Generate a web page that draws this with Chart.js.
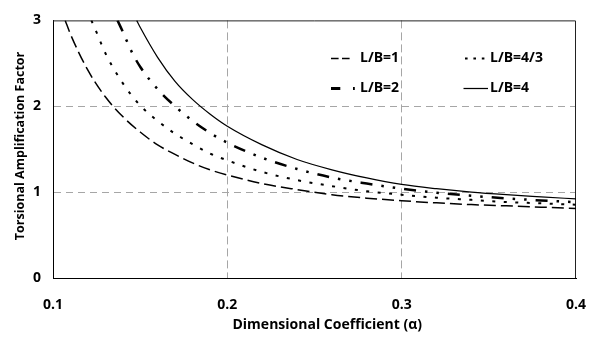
<!DOCTYPE html>
<html>
<head>
<meta charset="utf-8">
<script src="https://cdn.jsdelivr.net/npm/chart.js@4.4.1/dist/chart.umd.min.js"></script>
<style>
  html, body { margin: 0; padding: 0; background: #fff; }
</style>
</head>
<body>
<canvas id="chart" width="597" height="338"></canvas>
<script>
// Values
const lb1Alpha = [0.107, 0.11, 0.12, 0.13, 0.14, 0.15, 0.16, 0.17, 0.18, 0.19, 0.20, 0.22, 0.24, 0.26, 0.28, 0.30, 0.32, 0.34, 0.36, 0.38, 0.40];
const lb1Values = [3.0, 2.84, 2.42, 2.11, 1.88, 1.70, 1.55, 1.44, 1.34, 1.26, 1.20, 1.10, 1.03, 0.97, 0.93, 0.90, 0.875, 0.855, 0.84, 0.825, 0.81];

const lb43Alpha = [0.122, 0.125, 0.13, 0.14, 0.15, 0.16, 0.17, 0.18, 0.19, 0.20, 0.22, 0.24, 0.26, 0.28, 0.30, 0.32, 0.34, 0.36, 0.38, 0.40];
const lb43Values = [3.0, 2.86, 2.62, 2.27, 2.01, 1.83, 1.68, 1.56, 1.45, 1.37, 1.235, 1.14, 1.07, 1.01, 0.97, 0.935, 0.91, 0.885, 0.87, 0.853];

const lb2Alpha = [0.137, 0.14, 0.145, 0.15, 0.16, 0.17, 0.18, 0.19, 0.20, 0.22, 0.24, 0.26, 0.28, 0.30, 0.32, 0.34, 0.36, 0.38, 0.40];
const lb2Values = [3.0, 2.87, 2.64, 2.46, 2.20, 2.00, 1.83, 1.69, 1.576, 1.40, 1.27, 1.17, 1.10, 1.04, 0.994, 0.958, 0.928, 0.903, 0.883];

const lb4Alpha = [0.148, 0.15, 0.16, 0.17, 0.18, 0.19, 0.20, 0.22, 0.24, 0.26, 0.28, 0.30, 0.32, 0.34, 0.36, 0.38, 0.40];
const lb4Values = [3.0, 2.92, 2.57, 2.29, 2.08, 1.91, 1.767, 1.55, 1.38, 1.26, 1.165, 1.09, 1.04, 1.00, 0.97, 0.945, 0.921];

const seriesLabels = ['L/B=1', 'L/B=4/3', 'L/B=2', 'L/B=4'];
const xTicks = [0.1, 0.2, 0.3, 0.4];
const yTicks = [0, 1, 2, 3];

const font = { family: '"Open Sans", "Noto Sans", sans-serif', size: 14, weight: 'bold' };
const yTitleFont = { family: '"Open Sans", "Noto Sans", sans-serif', size: 12.5, weight: 'bold' };

function points(xs, ys) {
    return xs.map((x, i) => ({ x: x, y: ys[i] }));
}

function makeSet(label, xs, ys, width, dash, legend) {
    return {
        label: label,
        data: points(xs, ys),
        borderColor: '#000',
        borderWidth: width,
        borderDash: dash,
        pointRadius: 0,
        fill: false,
        cubicInterpolationMode: 'monotone',
        legendStyle: legend
    };
}

const datasets = [
    makeSet(seriesLabels[0], lb1Alpha, lb1Values, 1.5, [12, 5], { width: 1.6, dash: [7.6, 3.4], len: 19 }),
    makeSet(seriesLabels[1], lb43Alpha, lb43Values, 2, [3, 8.5], { width: 2, dash: [2.6, 5.8], len: 24.5, shift: 1.5 }),
    makeSet(seriesLabels[2], lb2Alpha, lb2Values, 2.5, [12, 9, 2.5, 9, 2.5, 9], { width: 3, dash: [9.3, 12.7, 1.8, 10], len: 24 }),
    makeSet(seriesLabels[3], lb4Alpha, lb4Values, 1.25, [], { width: 1.25, dash: [], len: 24.5 })
];

// legend sits inside the plot, 2 x 2
const legendSampleX = [331, 463.5];
const legendTextX = [360, 490];
const legendRowY = [58.5, 88.5];

const legendPlugin = {
    id: 'boxLegend',
    afterDatasetsDraw(chart) {
        const ctx = chart.ctx;
        ctx.save();
        chart.data.datasets.forEach((ds, i) => {
            const col = i % 2;
            const row = Math.floor(i / 2);
            const st = ds.legendStyle;
            const x0 = legendSampleX[col] + (st.shift || 0);
            const y = legendRowY[row];
            ctx.strokeStyle = '#000';
            ctx.lineWidth = st.width;
            ctx.setLineDash(st.dash);
            ctx.beginPath();
            ctx.moveTo(x0, y);
            ctx.lineTo(x0 + st.len, y);
            ctx.stroke();
            ctx.setLineDash([]);
            ctx.fillStyle = '#000';
            ctx.font = 'bold 14px "Open Sans", "Noto Sans", sans-serif';
            ctx.textBaseline = 'middle';
            ctx.textAlign = 'left';
            ctx.fillText(ds.label, legendTextX[col], y);
        });
        ctx.restore();
    }
};

// top and right edges of the plot box
const framePlugin = {
    id: 'frame',
    beforeDatasetsDraw(chart) {
        const a = chart.chartArea;
        const ctx = chart.ctx;
        ctx.save();
        ctx.strokeStyle = '#222';
        ctx.lineWidth = 1;
        ctx.beginPath();
        ctx.moveTo(a.left, a.top + 0.5);
        ctx.lineTo(a.right - 0.5, a.top + 0.5);
        ctx.lineTo(a.right - 0.5, a.bottom);
        ctx.stroke();
        ctx.restore();
    }
};

function innerGrid(first, last) {
    return (c) => {
        const v = c.tick ? c.tick.value : null;
        if (v === null || Math.abs(v - first) < 1e-6 || Math.abs(v - last) < 1e-6) return 'rgba(0,0,0,0)';
        return '#a6a6a6';
    };
}

const ctx = document.getElementById('chart').getContext('2d');
new Chart(ctx, {
    type: 'line',
    data: { datasets: datasets },
    options: {
        responsive: false,
        animation: false,
        layout: { padding: { top: 15, right: 21, left: 0, bottom: 0 } },
        plugins: { legend: { display: false }, tooltip: { enabled: false } },
        scales: {
            x: {
                type: 'linear',
                min: xTicks[0],
                max: xTicks[xTicks.length - 1],
                afterBuildTicks: (s) => { s.ticks = xTicks.map(v => ({ value: v })); },
                afterFit: (s) => { s.height = 60; s.paddingLeft = 0; s.paddingRight = 0; },
                ticks: { color: '#000', font: font, padding: 19, maxRotation: 0, callback: (v) => v.toFixed(1) },
                grid: { color: innerGrid(0.1, 0.4), drawTicks: false, lineWidth: 1 },
                border: { color: '#000', width: 1, dash: [8, 4] },
                title: { display: true, text: '       Dimensional Coefficient (α)', color: '#000', font: font, padding: { top: 0, bottom: 5 } }
            },
            y: {
                min: yTicks[0],
                max: yTicks[yTicks.length - 1],
                afterBuildTicks: (s) => { s.ticks = yTicks.map(v => ({ value: v })); },
                afterFit: (s) => { s.width = 53; },
                ticks: { color: '#000', font: font, padding: 12 },
                grid: { color: innerGrid(0, 3), drawTicks: false, lineWidth: 1 },
                border: { color: '#000', width: 1, dash: [7, 5] },
                title: { display: true, text: '  Torsional Amplification Factor', color: '#000', font: yTitleFont, padding: { top: 13, bottom: 0 } }
            }
        }
    },
    plugins: [framePlugin, legendPlugin]
});
</script>
</body>
</html>
